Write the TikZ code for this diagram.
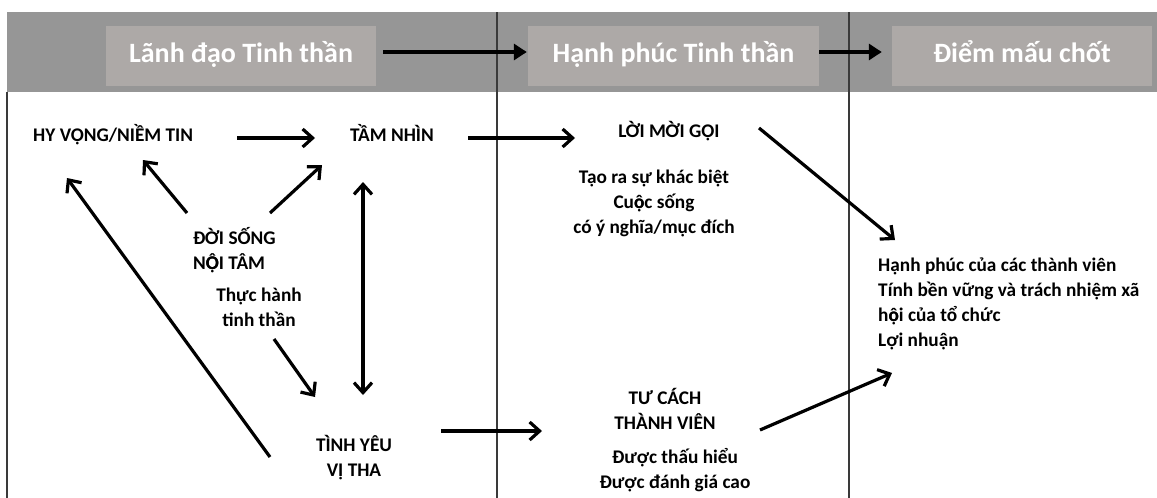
\documentclass[tikz,border=0pt]{standalone}
\usepackage{fontspec}
\setmainfont{Carlito}
\usetikzlibrary{arrows.meta}
\definecolor{band}{HTML}{969696}
\definecolor{hbox}{HTML}{ADA9A7}
\definecolor{vline}{HTML}{3A3A3A}
\newcommand{\Odh}{{\ooalign{Ọ\cr Ô}}}
\newcommand{\odh}{{\ooalign{ọ\cr ô}}}
\begin{document}
\begin{tikzpicture}[x=1pt,y=-1pt,
  lbl/.style={inner sep=0pt, font=\fontsize{19.3}{25}\selectfont\bfseries, text=black},
  hdr/.style={fill=hbox, minimum height=60pt, inner sep=0pt, text height=19pt, text depth=6pt, text=white, font=\fontsize{28}{30}\selectfont\bfseries},
  arr/.style={line width=3.2pt, -{Straight Barb[length=10pt,width=18pt]}},
  darr/.style={line width=3.2pt, {Straight Barb[length=10pt,width=18pt]}-{Straight Barb[length=10pt,width=18pt]}},
  harr/.style={line width=4.5pt, -{Triangle[length=13pt,width=16pt]}},
  sep/.style={line width=1.4pt, draw=vline}]
\useasboundingbox (0,0) rectangle (1157,498);
\clip (0,0) rectangle (1157,498);
% header band
\fill[band] (7,12) rectangle (1157,92);
\node[hdr, minimum width=270pt] (b1) at (241,56) {Lãnh đạo Tinh thần};
\node[hdr, minimum width=291pt] (b2) at (673.5,56) {Hạnh phúc Tinh thần};
\node[hdr, minimum width=260pt] (b3) at (1022,56) {Điểm mấu chốt};
% separators
\draw[sep] (7,92) -- (7,498);
\draw[sep] (497,12) -- (497,498);
\draw[sep] (849,12) -- (849,498);
% header arrows
\draw[harr] ([shift={(7,-4)}]b1.east) -- ([shift={(-1,-4)}]b2.west);
\draw[harr] ([shift={(0,-4)}]b2.east) -- ([shift={(-10,-4)}]b3.west);
% labels
\node[lbl, anchor=base west] (hy) at (33,141.5) {HY VỌNG/NIỀM TIN};
\node[lbl, anchor=base] (tn) at (392,141.5) {TẦM NHÌN};
\node[lbl, anchor=base] (lmg) at (669,137.5) {LỜI MỜI GỌI};
\node[lbl, align=center] (lmgd) at (654,203) {Tạo ra sự khác biệt\\Cu\odh c sống\\có ý nghĩa/mục đích};
\node[lbl, align=left, anchor=west] (ds) at (193,249) {ĐỜI SỐNG\\N\Odh I TÂM};
\node[lbl, align=center] (th) at (259,307) {Thực hành\\tinh thần};
\node[lbl, align=center] (ty) at (354,458) {TÌNH YÊU\\VỊ THA};
\node[lbl, align=center] (tc) at (665,409) {TƯ CÁCH\\THÀNH VIÊN};
\node[lbl, align=center] (tcd) at (675,470) {Được thấu hiểu\\Được đánh giá cao};
\node[lbl, align=left, anchor=west] (out) at (878,304) {Hạnh phúc của các thành viên\\Tính bền vững và trách nhiệm xã\\h\odh i của tổ chức\\Lợi nhuận};
% connectors
\draw[arr] ([shift={(204,-3.5)}]hy.base west) -- ([shift={(-77,-3.5)}]tn.base);
\draw[arr] ([shift={(76,-3.5)}]tn.base) -- ([shift={(-94,0.5)}]lmg.base);
\draw[arr] ([shift={(-6,-36)}]ds.west) -- ([shift={(110,18.5)}]hy.base west);
\draw[arr] ([shift={(77,-36)}]ds.west) -- ([shift={(-70,23.5)}]tn.base);
\draw[arr] ([shift={(15,32)}]th.center) -- ([shift={(-39,-61)}]ty.center);
\draw[darr] ([shift={(-29,40.5)}]tn.base) -- ([shift={(9,-63)}]ty.center);
\draw[arr] ([shift={(-84,-1)}]ty.center) -- ([shift={(34,36.5)}]hy.base west);
\draw[arr] ([shift={(87,-27)}]ty.center) -- ([shift={(-123,22)}]tc.center);
\draw[arr] ([shift={(90,-9.5)}]lmg.base) -- ([shift={(17,-64)}]out.west);
\draw[arr] ([shift={(95,21)}]tc.center) -- ([shift={(14,69)}]out.west);
\end{tikzpicture}
\end{document}
